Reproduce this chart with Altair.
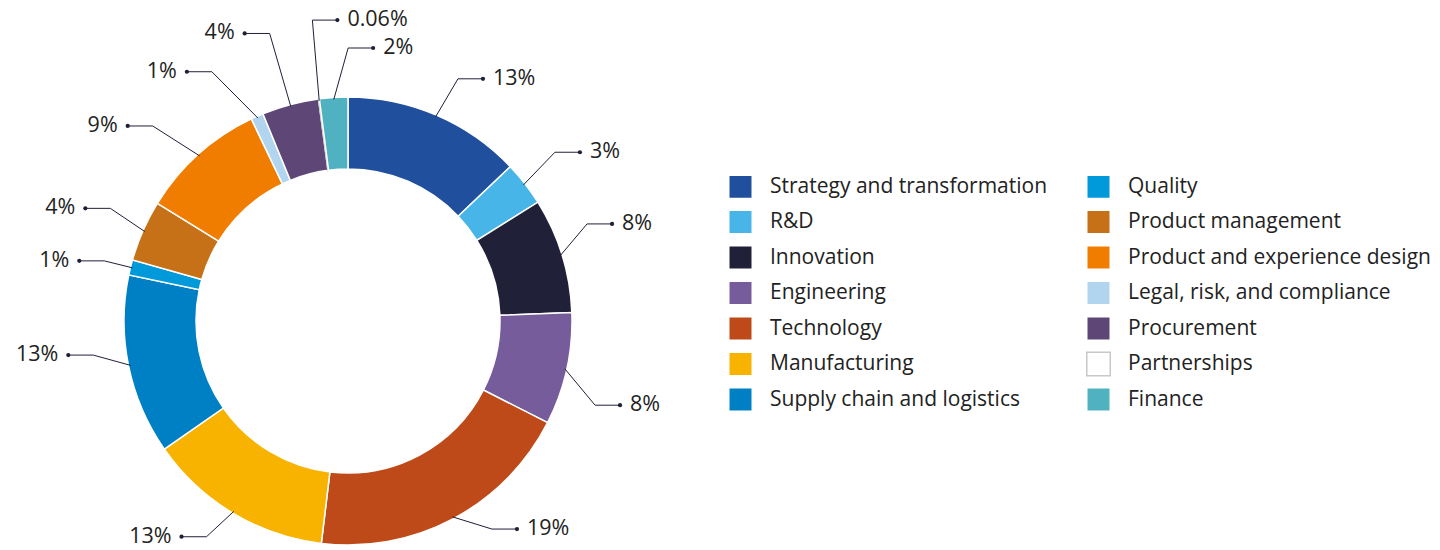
import math
import altair as alt
import pandas as pd

# ---------------- data ----------------
categories = [
    "Strategy and transformation", "R&D", "Innovation", "Engineering",
    "Technology", "Manufacturing", "Supply chain and logistics", "Quality",
    "Product management", "Product and experience design",
    "Legal, risk, and compliance", "Procurement", "Partnerships", "Finance",
]
shares = [12.9, 3.2, 8.3, 8.1, 19.4, 13.4, 13.0, 1.1, 4.4, 9.1, 0.9, 4.1, 0.06, 2.04]
labels = ["13%", "3%", "8%", "8%", "19%", "13%", "13%", "1%", "4%", "9%", "1%", "4%", "0.06%", "2%"]
colors = [
    "#1f4f9d", "#47b5e7", "#202039", "#775c9c", "#be4a19", "#f8b300", "#0080c4",
    "#0099da", "#c67117", "#f07d00", "#b1d4ef", "#5e4777", "#ffffff", "#50b1c0",
]
outline = ["#ffffff"] * 12 + ["#c8c8c8", "#ffffff"]

# ---------------- layout (styling only) ----------------
W, H = 1424, 542
CX, CY = 340, 313
R_OUT, R_IN = 224, 152
elbow_shift = [1.2, -1.4, -5, 6.4, -6.6, 2.3, 3.9, 0, 1.6, -3.1, -4.7, -0.3, 0.7, 3.7]
elbow_radius = [266, 267, 258, 261, 253, 258, 257, 251, 263, 276, 284, 298, 303, 273]
HLEN = 25
FONT = "Open Sans"
FSIZE = 21.5
LEG_FSIZE = 21
INK = "#1f2038"

# ---------------- derived tables ----------------
total = sum(shares)
arc_df = pd.DataFrame({"cat": categories, "share": shares, "idx": list(range(len(categories)))})

rows_line, rows_pt = [], []
cum = 0.0
for i, (c, v, lab) in enumerate(zip(categories, shares, labels)):
    mid = (cum + v / 2) / total * 360.0
    cum += v
    ea = mid + elbow_shift[i]
    right = (ea % 360) < 180 or (ea % 360) > 350
    sx, sy = (R_OUT - 2) * math.sin(math.radians(mid)), (R_OUT - 2) * math.cos(math.radians(mid))
    ex, ey = elbow_radius[i] * math.sin(math.radians(ea)), elbow_radius[i] * math.cos(math.radians(ea))
    dx = ex + (HLEN if right else -HLEN)
    for k, (px, py) in enumerate([(sx, sy), (ex, ey), (dx, ey)]):
        rows_line.append({"id": i, "k": k, "px": px, "py": py})
    rows_pt.append({"id": i, "px": dx, "py": ey, "label": lab, "side": "R" if right else "L"})

line_df = pd.DataFrame(rows_line)
pt_df = pd.DataFrame(rows_pt)

xs = alt.Scale(domain=[-CX, W - CX], nice=False, zero=False)
ys = alt.Scale(domain=[-(H - CY), CY], nice=False, zero=False)

legend_cfg = dict(
    title=None, orient="none", legendX=720, legendY=166, columns=2,
    symbolType="square", symbolSize=552, symbolStrokeWidth=1.5,
    labelFont=FONT, labelFontSize=LEG_FSIZE, labelColor="#222222", labelLimit=0,
    labelOffset=17, rowPadding=4.5, columnPadding=35, padding=0,
)

arcs = alt.Chart(arc_df).mark_arc(
    outerRadius=R_OUT, innerRadius=R_IN, strokeWidth=1.5
).encode(
    theta=alt.Theta("share:Q", stack=True),
    order=alt.Order("idx:Q"),
    color=alt.Color("cat:N", scale=alt.Scale(domain=categories, range=colors),
                    legend=alt.Legend(**legend_cfg)),
    stroke=alt.Stroke("cat:N", scale=alt.Scale(domain=categories, range=outline),
                      legend=alt.Legend(**legend_cfg)),
    x=alt.value(CX),
    y=alt.value(CY),
)

leaders = alt.Chart(line_df).mark_line(color=INK, strokeWidth=1).encode(
    x=alt.X("px:Q", scale=xs, axis=None),
    y=alt.Y("py:Q", scale=ys, axis=None),
    detail="id:N",
    order="k:Q",
)

dots = alt.Chart(pt_df).mark_circle(color=INK, size=18, opacity=1).encode(
    x=alt.X("px:Q", scale=xs, axis=None),
    y=alt.Y("py:Q", scale=ys, axis=None),
)

txt_r = alt.Chart(pt_df).transform_filter("datum.side === 'R'").mark_text(
    align="left", baseline="middle", dx=10, font=FONT, fontSize=FSIZE, color="#222222"
).encode(
    x=alt.X("px:Q", scale=xs, axis=None),
    y=alt.Y("py:Q", scale=ys, axis=None),
    text="label:N",
)
txt_l = alt.Chart(pt_df).transform_filter("datum.side === 'L'").mark_text(
    align="right", baseline="middle", dx=-10, font=FONT, fontSize=FSIZE, color="#222222"
).encode(
    x=alt.X("px:Q", scale=xs, axis=None),
    y=alt.Y("py:Q", scale=ys, axis=None),
    text="label:N",
)

chart = alt.layer(arcs, leaders, dots, txt_r, txt_l).properties(
    width=W, height=H, padding=0, autosize=alt.AutoSizeParams(type="none")
).configure_view(stroke=None)

chart.save("out.html", embed_options={"renderer": "svg", "actions": False})
